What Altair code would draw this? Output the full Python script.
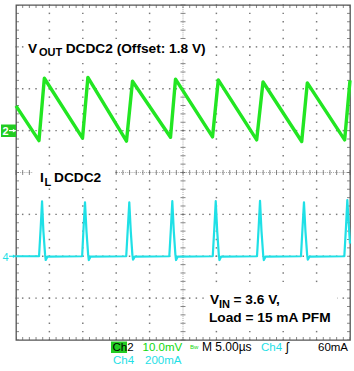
import altair as alt
import pandas as pd

# Ch2: VOUT ripple in mV (relative to the 1.8 V offset), time in microseconds
vout_t = [0.0, 3.44, 4.24, 9.96, 10.76, 16.54, 17.44, 23.13, 23.88, 29.42, 30.28,
          36.03, 36.98, 42.77, 43.61, 49.2, 50.0]
vout_mv = [5.9, -2.4, 12.5, -1.8, 12.7, -2.5, 11.8, -1.6, 12.3, -1.5, 12.1,
           -2.2, 11.6, -2.6, 11.4, -2.2, 12.0]

# Ch4: inductor current in mA, time in microseconds
il_t = [0.0,
        3.45, 3.7, 3.9, 4.1, 4.35, 4.45, 4.7,
        9.9, 10.12, 10.33, 10.55, 10.8, 10.9, 11.15,
        16.5, 16.75, 16.96, 17.18, 17.42, 17.52, 17.78,
        22.95, 23.2, 23.4, 23.62, 23.86, 23.96, 24.2,
        29.45, 29.7, 29.9, 30.12, 30.36, 30.46, 30.7,
        36.08, 36.33, 36.53, 36.75, 37.0, 37.1, 37.35,
        42.66, 42.9, 43.11, 43.33, 43.58, 43.68, 43.93,
        49.15, 49.4, 49.6, 49.82, 50.0]
il_ma = [0,
         0, 140, 262, 120, 10, -18, -2,
         0, 140, 258, 120, 8, -18, -2,
         0, 140, 258, 120, 8, -16, -2,
         0, 140, 263, 120, 8, -18, -2,
         0, 140, 263, 120, 8, -18, -2,
         0, 140, 265, 120, 8, -18, -2,
         0, 140, 258, 120, 8, -16, -2,
         0, 140, 268, 150, 60]

# scope settings
ch2_mv_per_div = 10.0
ch2_ref_div = 1.0
ch4_ma_per_div = 200.0
ch4_ref_div = -2.0

grid_t = [5, 10, 15, 20, 30, 35, 40, 45]
grid_div = [-3, -2, -1, 1, 2, 3]
minor_t = list(range(0, 51))
minor_div = [i / 5 for i in range(-20, 21)]

# ---------------- layout helpers ----------------
W, H = 334, 335
L, T = 16, 5


def X(px):
    return (px - L) / W * 50.0


def Y(py):
    return 4.0 - (py - T) / H * 8.0


xs = alt.Scale(domain=[0, 50], nice=False, zero=False)
ys = alt.Scale(domain=[-4, 4], nice=False, zero=False)
dummy = pd.DataFrame({"d": [0]})

GRID = "#7a7a7a"
TICK = "#555555"
GREEN = "#22e622"
CYAN = "#1fe0e6"
FONT = "Liberation Sans"


def xd(v):
    return alt.XDatum(v, scale=xs, axis=None)


def yd(v):
    return alt.YDatum(v, scale=ys, axis=None)


def txt(s, px, py, size, color="black", weight="bold", align="left", font=FONT):
    return alt.Chart(dummy).mark_text(
        text=s, align=align, baseline="alphabetic", fontSize=size,
        fontWeight=weight, font=font, color=color
    ).encode(x=xd(X(px)), y=yd(Y(py)))


def box(x0, x1, y0, y1, color):
    return alt.Chart(dummy).mark_rect(color=color).encode(
        x=xd(X(x0)), x2=alt.X2Datum(X(x1)), y=yd(Y(y0)), y2=alt.Y2Datum(Y(y1))
    )


def arrow(x0, x1, level, color):
    shaft = alt.Chart(dummy).mark_rule(color=color, strokeWidth=1.2).encode(
        x=xd(X(x0)), x2=alt.X2Datum(X(x1)), y=yd(level)
    )
    head = alt.Chart(dummy).mark_point(
        shape="triangle-right", filled=True, color=color, size=14, opacity=1
    ).encode(x=xd(X(x1 - 1)), y=yd(level))
    return [shaft, head]


layers = []

# grid: dotted major lines drawn as dots at every minor division
dots = pd.DataFrame(
    [{"t": t, "v": v} for t in grid_t for v in minor_div]
    + [{"t": t, "v": v} for t in minor_t for v in grid_div]
)
layers.append(
    alt.Chart(dots).mark_square(size=2.2, color=GRID, opacity=1).encode(
        x=alt.X("t:Q", scale=xs, axis=None), y=alt.Y("v:Q", scale=ys, axis=None)
    )
)
# centre cross lines
layers.append(
    alt.Chart(dummy).mark_rule(color="#a8a8a8", strokeWidth=1, strokeDash=[1, 1.1]).encode(
        x=xd(25), y=yd(4), y2=alt.Y2Datum(-4))
)
layers.append(
    alt.Chart(dummy).mark_rule(color="#a8a8a8", strokeWidth=1, strokeDash=[1, 1.1]).encode(
        y=yd(0), x=xd(0), x2=alt.X2Datum(50))
)
# centre cross minor ticks
layers.append(
    alt.Chart(pd.DataFrame({"t": minor_t})).mark_tick(
        color=TICK, orient="vertical", size=5, thickness=1
    ).encode(x=alt.X("t:Q", scale=xs, axis=None), y=yd(0))
)
layers.append(
    alt.Chart(pd.DataFrame({"v": minor_div})).mark_tick(
        color=TICK, orient="horizontal", size=5, thickness=1
    ).encode(y=alt.Y("v:Q", scale=ys, axis=None), x=xd(25))
)
# border minor ticks (inward)
for yb in (4, -4):
    layers.append(
        alt.Chart(pd.DataFrame({"t": minor_t})).mark_tick(
            color=TICK, orient="vertical", size=6, thickness=1, clip=True
        ).encode(x=alt.X("t:Q", scale=xs, axis=None), y=yd(yb))
    )
for xb in (0, 50):
    layers.append(
        alt.Chart(pd.DataFrame({"v": minor_div})).mark_tick(
            color=TICK, orient="horizontal", size=6, thickness=1, clip=True
        ).encode(y=alt.Y("v:Q", scale=ys, axis=None), x=xd(xb))
    )

# white boxes behind the annotations
layers.append(box(24, 214, 39, 59, "white"))
layers.append(box(33, 115, 168, 188, "white"))
layers.append(box(205, 337, 289, 327, "white"))

# traces
vout_df = pd.DataFrame({"t": vout_t, "mv": vout_mv})
il_df = pd.DataFrame({"t": il_t, "ma": il_ma})

layers.append(
    alt.Chart(vout_df).transform_calculate(
        div=f"{ch2_ref_div} + datum.mv / {ch2_mv_per_div}"
    ).mark_line(color=GREEN, strokeWidth=3.4, strokeJoin="round").encode(
        x=alt.X("t:Q", scale=xs, axis=None),
        y=alt.Y("div:Q", scale=ys, axis=None),
        order="t:Q",
    )
)
layers.append(
    alt.Chart(il_df).transform_calculate(
        div=f"{ch4_ref_div} + datum.ma / {ch4_ma_per_div}"
    ).mark_line(color=CYAN, strokeWidth=2.2, strokeJoin="round").encode(
        x=alt.X("t:Q", scale=xs, axis=None),
        y=alt.Y("div:Q", scale=ys, axis=None),
        order="t:Q",
    )
)

# annotations
ANN = 13.7
layers += [
    txt("V", 28, 52.5, ANN),
    txt("OUT", 39, 55.5, 11),
    txt("DCDC2 (Offset: 1.8 V)", 65.7, 52.5, ANN),
    txt("I", 40, 181.5, ANN),
    txt("L", 44.5, 185.5, 11),
    txt("DCDC2", 54, 181.5, ANN),
    txt("V", 210, 303.5, ANN),
    txt("IN", 219, 308, 11),
    txt("= 3.6 V,", 233.5, 303.5, ANN),
    txt("Load = 15 mA PFM", 209, 322, ANN),
]

# channel reference markers
layers.append(box(1, 16, 124.5, 137, "#22cc22"))
layers.append(txt("2", 2.5, 135, 11, color="white"))
layers += arrow(9, 15.5, ch2_ref_div, "white")
layers.append(txt("4", 2.5, 260.5, 11, color=CYAN, weight="normal"))
layers += arrow(9, 15.5, ch4_ref_div, CYAN)

# status bar
SB = 11.5
layers += [
    box(111, 127, 341.5, 353, "#22cc22"),
    txt("Ch2", 112.5, 351, SB, weight="normal"),
    txt("10.0mV", 142.5, 351, SB, color="#10d810", weight="normal"),
    txt("Bw", 190, 348.5, 6, color="#10d810", weight="normal"),
    txt("M 5.00µs", 202, 351, 12, weight="normal"),
    txt("Ch4", 261, 351, SB, color=CYAN, weight="normal"),
    txt("ʃ", 286, 351, 12, weight="normal"),
    txt("60mA", 318, 351, SB, weight="normal"),
    txt("Ch4", 113, 363.5, SB, color=CYAN, weight="normal"),
    txt("200mA", 145, 363.5, SB, color=CYAN, weight="normal"),
]

chart = alt.layer(*layers).properties(
    width=W, height=H,
    padding={"left": L, "top": T, "right": 4, "bottom": 31},
    autosize=alt.AutoSizeParams(type="none"),
    background="white",
).configure_view(stroke="#555555", strokeWidth=1.3, fill="white")

chart.save("out.html", embed_options={"renderer": "svg", "actions": False})
